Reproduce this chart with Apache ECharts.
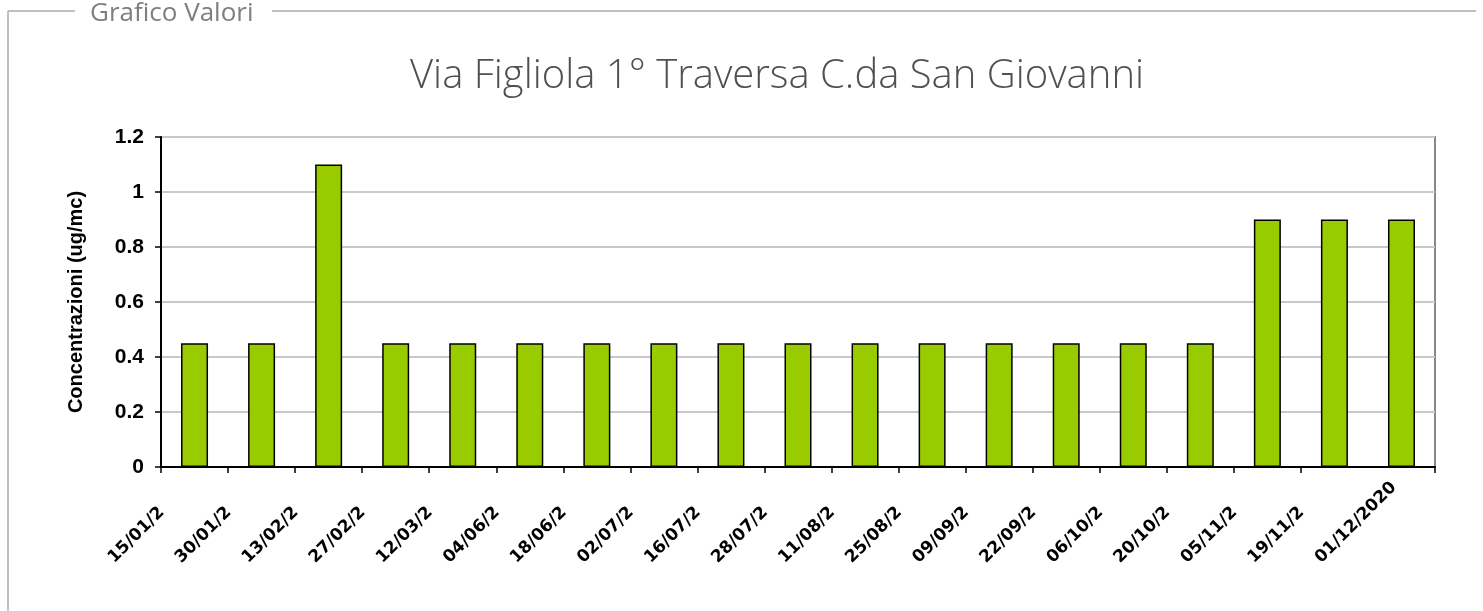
<!DOCTYPE html>
<html><head><meta charset="utf-8">
<script src="https://cdn.jsdelivr.net/npm/echarts@6/dist/echarts.min.js"></script>
<style>html,body{margin:0;padding:0;background:#fff;overflow:hidden}#c{width:1483px;height:611px}</style>
</head><body><div id="c"></div>
<script>
const boxTitle = 'Grafico Valori';
const chartTitle = 'Via Figliola 1° Traversa C.da San Giovanni';
const yAxisName = 'Concentrazioni (ug/mc)';
const categories = ['15/01/2020','30/01/2020','13/02/2020','27/02/2020','12/03/2020','04/06/2020','18/06/2020','02/07/2020','16/07/2020','28/07/2020','11/08/2020','25/08/2020','09/09/2020','22/09/2020','06/10/2020','20/10/2020','05/11/2020','19/11/2020','01/12/2020'];
const values = [0.45,0.45,1.1,0.45,0.45,0.45,0.45,0.45,0.45,0.45,0.45,0.45,0.45,0.45,0.45,0.45,0.9,0.9,0.9];
const yMin = 0, yMax = 1.2, yStep = 0.2;

const last = categories.length - 1;
const chart = echarts.init(document.getElementById('c'));
const lblFont = {fontFamily:'DejaVu Sans', fontWeight:'bold', fontSize:17, color:'#000'};
const lblBase = {
  rotate:45, margin:10, width:80, padding:[0,38,0,0],
  formatter:(v)=> '{t|'+v+'}',
  rich:{t:Object.assign({align:'left'}, lblFont)}
};
chart.setOption({
  animation:false,
  backgroundColor:'#fff',
  title:{text:chartTitle, left:405, top:52, textStyle:{fontFamily:'Open Sans', fontWeight:300, fontSize:40, color:'#505050'}},
  graphic:[
    {type:'line', shape:{x1:8,y1:11,x2:8,y2:611}, style:{stroke:'#ababab', lineWidth:1.5}},
    {type:'line', shape:{x1:8,y1:11,x2:75,y2:11}, style:{stroke:'#ababab', lineWidth:1.5}},
    {type:'line', shape:{x1:272,y1:11,x2:1476,y2:11}, style:{stroke:'#ababab', lineWidth:1.5}},
    {type:'text', left:90, top:1, style:{text:boxTitle, fill:'#7f7f7f', font:'26px "Open Sans"'}}
  ],
  grid:{left:161, right:48, top:137, bottom:144, show:true, borderColor:'#888', borderWidth:2, containLabel:false},
  xAxis:[{
    type:'category', data:categories,
    axisLine:{lineStyle:{color:'#000', width:2}},
    axisTick:{show:true, length:6, lineStyle:{color:'#000', width:1.5}},
    axisLabel:Object.assign({interval:(i)=> i !== last, overflow:'truncate', ellipsis:''}, lblBase)
  },{
    type:'category', data:categories, position:'bottom',
    axisLine:{show:false}, axisTick:{show:false}, splitLine:{show:false},
    axisLabel:Object.assign({interval:(i)=> i === last, overflow:'none'}, lblBase)
  }],
  yAxis:{
    type:'value', min:yMin, max:yMax, interval:yStep,
    name:yAxisName, nameLocation:'middle', nameGap:75,
    nameTextStyle:{fontFamily:'Liberation Sans', fontWeight:'bold', fontSize:20, color:'#000'},
    axisLine:{show:true, lineStyle:{color:'#000', width:2}},
    axisTick:{show:true, length:6, lineStyle:{color:'#000', width:1.5}},
    axisLabel:{fontFamily:'Liberation Sans', fontWeight:'bold', fontSize:21, color:'#000', margin:17},
    splitLine:{lineStyle:{color:'#c8c8c8', width:2}}
  },
  series:[{type:'bar', data:values, barWidth:27, xAxisIndex:0,
    itemStyle:{color:'#99cc00', borderColor:'#000', borderWidth:1.5}}]
});
</script></body></html>
